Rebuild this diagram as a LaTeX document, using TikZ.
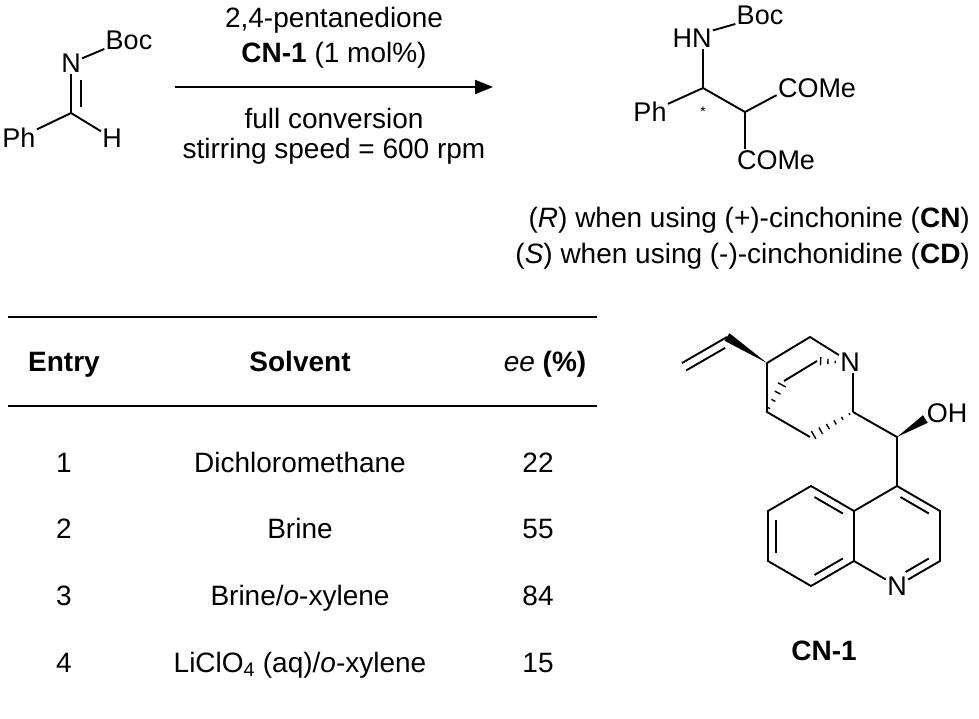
\documentclass[tikz,border=0pt]{standalone}
\usepackage{fontspec}
\setmainfont{Liberation Sans}
\usepackage{tikz}
\usetikzlibrary{calc,arrows.meta}

\newcommand\wedgebond[2]{\fill (#1) -- ($(#2)!4.5pt!90:(#1)$) -- ($(#2)!4.5pt!-90:(#1)$) -- cycle;}
\newcommand\hashbond[3]{%
  \foreach \hk in {1,...,#3}{%
    \pgfmathsetmacro\hf{(\hk-0.5)/#3}%
    \pgfmathsetmacro\hw{0.6+4.2*\hf}%
    \draw[line width=1.4pt] ($(#1)!\hf!(#2)!\hw pt!90:(#2)$) -- ($(#1)!\hf!(#2)!\hw pt!-90:(#2)$);}}
\newcommand\inbond[3]{\draw[bond,shorten <=4pt,shorten >=4pt] ($(#1)!0.18!(#3)$) -- ($(#2)!0.18!(#3)$);}

\begin{document}
\begin{tikzpicture}[x=1pt,y=-1pt,
  bond/.style={line width=1.9pt},
  atom/.style={inner sep=1.2pt,font=\fontsize{27}{30}\selectfont},
  txt/.style={inner sep=0pt,font=\fontsize{28}{33}\selectfont}]
\useasboundingbox (0,0) rectangle (979,718);

\node[atom] at (129,40) (boc1) {Boc};
\node[atom] at (71,63) (n1) {N};
\coordinate (c1) at (71,113);
\node[atom] at (19,138) (ph1) {Ph};
\node[atom] at (112,138) (h1) {H};
\draw[bond] (n1) -- (boc1.200);
\draw[bond] (c1) -- (n1);
\draw[bond,shorten <=6pt,shorten >=17pt] ($(c1)!10pt!-90:(n1)$) -- ($(n1)!10pt!90:(c1)$);
\draw[bond] (c1) -- (ph1);
\draw[bond] (c1) -- (h1);

\coordinate (arS) at (175,87);
\coordinate (arE) at (493,87);
\draw[bond,-{Triangle[length=18pt,width=14pt]}] (arS) -- (arE);
\node[txt,anchor=base] at (334,27) (cond1) {2,4-pentanedione};
\node[txt,anchor=base] at (334,62) (cond2) {\textbf{CN-1} (1 mol\%)};
\node[txt,anchor=base] at (334,128) (cond3) {full conversion};
\node[txt,anchor=base] at (334,158) (cond4) {stirring speed = 600 rpm};

\node[atom] at (760,15) (boc2) {Boc};
\node[atom] at (692,38) (hn) {HN};
\coordinate (c2) at (703,88);
\coordinate (c3) at (745,112);
\node[atom] at (650,112) (ph2) {Ph};
\node[atom] at (817,88) (come1) {COMe};
\node[atom] at (776,160) (come2) {COMe};
\node[inner sep=0pt,anchor=base,font=\fontsize{14}{14}\selectfont] at (703,116) (star) {*};
\draw[bond] (hn.20) -- (boc2.200);
\draw[bond] (c2) -- (c2 |- hn.south);
\draw[bond] (c2) -- (ph2);
\draw[bond] (c2) -- (c3);
\draw[bond] (c3) -- (come1.190);
\draw[bond] (c3) -- (c3 |- come2.north);

\node[txt,anchor=base east] at (970,227) (selR) {(\textit{R}) when using (+)-cinchonine (\textbf{CN})};
\node[txt,anchor=base east] at (970,263) (selS) {(\textit{S}) when using (-)-cinchonidine (\textbf{CD})};

\coordinate (tl1) at (8,317);
\coordinate (tr1) at (597,317);
\coordinate (tl2) at (8,406);
\coordinate (tr2) at (597,406);
\draw[bond] (tl1) -- (tr1);
\draw[bond] (tl2) -- (tr2);
\node[txt,anchor=base] at (64,371) (hEntry) {\textbf{Entry}};
\node[txt,anchor=base] at (300,371) (hSolv) {\textbf{Solvent}};
\node[txt,anchor=base] at (545,371) (hEe) {\textit{ee} \textbf{(\%)}};
\node[txt,anchor=base] at (64,472) (e1) {1};
\node[txt,anchor=base] at (300,472) (s1) {Dichloromethane};
\node[txt,anchor=base] at (538,472) (p1) {22};
\node[txt,anchor=base] at (64,538) (e2) {2};
\node[txt,anchor=base] at (300,538) (s2) {Brine};
\node[txt,anchor=base] at (538,538) (p2) {55};
\node[txt,anchor=base] at (64,605) (e3) {3};
\node[txt,anchor=base] at (300,605) (s3) {Brine/\textit{o}-xylene};
\node[txt,anchor=base] at (538,605) (p3) {84};
\node[txt,anchor=base] at (64,672) (e4) {4};
\node[txt,anchor=base] at (300,672) (s4) {LiClO\textsubscript{4} (aq)/\textit{o}-xylene};
\node[txt,anchor=base] at (538,672) (p4) {15};

\coordinate (v1) at (682,363);
\coordinate (v2) at (727,337);
\coordinate (q3) at (767,363);
\coordinate (q2) at (810,337);
\node[atom] at (850,362) (qn) {N};
\coordinate (q4) at (767,412);
\coordinate (q5) at (810,437);
\coordinate (q8) at (853,412);
\coordinate (q6) at (817,361);
\coordinate (q7) at (784,381);
\coordinate (qnb) at (qn.west);
\coordinate (c9) at (897,437);
\node[atom] at (947,413) (oh) {OH};
\coordinate (ohw) at ($(oh.west)+(0,6)$);
\coordinate (ctrR) at (897,536);
\coordinate (ctrL) at (811,536);
\coordinate (r4) at (897,486);
\coordinate (r3) at (940,511);
\coordinate (r2) at (940,561);
\node[atom] at (897,586) (rn) {N};
\coordinate (r8a) at (854,561);
\coordinate (r4a) at (854,511);
\coordinate (l5) at (811,486);
\coordinate (l6) at (768,511);
\coordinate (l7) at (768,561);
\coordinate (l8) at (811,586);

\draw[bond] (v1) -- (v2);
\draw[bond,shorten >=7pt] ($(v1)!8.5pt!-90:(v2)$) -- ($(v2)!8.5pt!90:(v1)$);
\wedgebond{q3}{v2}
\draw[bond] (q3) -- (q2) -- (qn);
\draw[bond] (q8) -- (q8 |- qn.south);
\draw[bond] (q3) -- (q4) -- (q5);
\hashbond{q8}{q5}{6}
\draw[bond] (q6) -- (q7);
\hashbond{qnb}{q6}{3}
\hashbond{q4}{q7}{4}
\draw[bond] (q8) -- (c9) -- (r4);
\wedgebond{c9}{ohw}
\draw[bond] (r8a) -- (r4a) -- (r4) -- (r3) -- (r2) -- (rn) -- (r8a);
\draw[bond] (r4a) -- (l5) -- (l6) -- (l7) -- (l8) -- (r8a);
\inbond{r4}{r3}{ctrR}
\draw[bond,shorten <=4pt,shorten >=10pt] ($(r2)!0.18!(ctrR)$) -- ($(rn)!0.18!(ctrR)$);
\inbond{r4a}{l5}{ctrL}
\inbond{l6}{l7}{ctrL}
\inbond{l8}{r8a}{ctrL}
\node[txt,anchor=base] at (824,660) (cnlab) {\textbf{CN-1}};
\end{tikzpicture}
\end{document}
